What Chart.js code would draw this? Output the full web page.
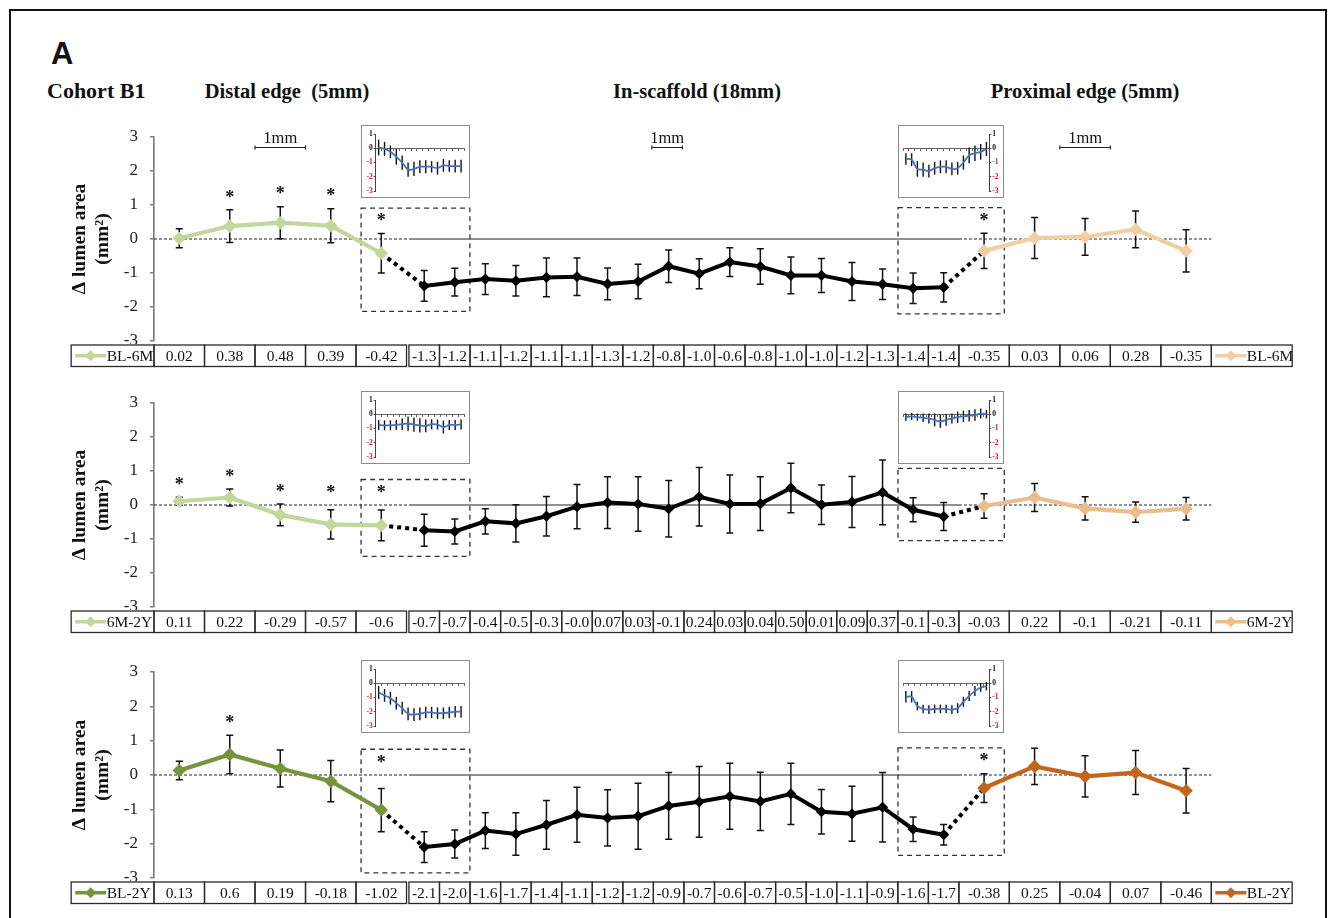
<!DOCTYPE html>
<html>
<head>
<meta charset="utf-8">
<title>Cohort B1 - change in lumen area</title>
<script src="https://cdn.jsdelivr.net/npm/chart.js@4.4.1/dist/chart.umd.min.js"></script>
<style>
  body { margin: 0; width: 1337px; height: 918px; overflow: hidden; position: relative; background: #fff;
         font-family: "Liberation Serif", "Times New Roman", serif; }
  #frame { position: absolute; left: 9px; top: 9px; width: 1314px; height: 960px; border: 2.5px solid #111; }
  .hd { position: absolute; font-weight: bold; font-size: 20.5px; line-height: 1; white-space: pre; color: #111; }
  .panel { position: absolute; left: 0; }
  .inset { position: absolute; border: 1px solid #8c8c8c; background: #fff; }
  .inset canvas { display: block; }
</style>
</head>
<body>
<div id="frame"></div>
<div class="hd" style="left:51px;top:38px;font-family:'Liberation Sans',Arial,sans-serif;font-size:31px;">A</div>
<div class="hd" style="left:47px;top:80px;font-size:22px;">Cohort B1</div>
<div class="hd" style="left:137px;top:81px;width:300px;text-align:center;">Distal edge  (5mm)</div>
<div class="hd" style="left:547px;top:81px;width:300px;text-align:center;">In-scaffold (18mm)</div>
<div class="hd" style="left:935px;top:81px;width:300px;text-align:center;">Proximal edge (5mm)</div>

<canvas id="p1" class="panel" width="1337" height="262" style="top:110px"></canvas>
<canvas id="p2" class="panel" width="1337" height="262" style="top:376px"></canvas>
<canvas id="p3" class="panel" width="1337" height="264" style="top:645px"></canvas>

<script>
const SERIF = '"Liberation Serif", "Times New Roman", serif';

// ---------- BL-6M ----------
const bl6mDistal     = [0.02, 0.38, 0.48, 0.39, -0.42];
const bl6mDistalSd   = [0.28, 0.48, 0.47, 0.50, 0.58];
const bl6mScaffold   = [-1.38, -1.27, -1.18, -1.23, -1.13, -1.11, -1.32, -1.25, -0.80, -1.02, -0.68, -0.81, -1.07, -1.07, -1.25, -1.33, -1.45, -1.42];
const bl6mScaffoldSd = [0.45, 0.41, 0.45, 0.45, 0.57, 0.55, 0.47, 0.51, 0.48, 0.44, 0.42, 0.52, 0.54, 0.50, 0.56, 0.45, 0.45, 0.43];
const bl6mProx       = [-0.35, 0.03, 0.06, 0.28, -0.35];
const bl6mProxSd     = [0.52, 0.60, 0.54, 0.54, 0.62];
const bl6mStars      = [1, 2, 3, 4, 23];
const bl6mLabels = ['0.02','0.38','0.48','0.39','-0.42',
  '-1.3','-1.2','-1.1','-1.2','-1.1','-1.1','-1.3','-1.2','-0.8','-1.0','-0.6','-0.8','-1.0','-1.0','-1.2','-1.3','-1.4','-1.4',
  '-0.35','0.03','0.06','0.28','-0.35'];
const bl6mInsetD   = [0.05, -0.05, -0.25, -0.6, -1.0, -1.5, -1.45, -1.3, -1.3, -1.3, -1.4, -1.2, -1.25, -1.25, -1.25];
const bl6mInsetDSd = [0.55, 0.5, 0.45, 0.55, 0.5, 0.5, 0.5, 0.45, 0.45, 0.4, 0.45, 0.45, 0.4, 0.45, 0.45];
const bl6mInsetP   = [-0.75, -0.8, -1.45, -1.5, -1.6, -1.4, -1.3, -1.3, -1.45, -1.4, -1.0, -0.5, -0.35, -0.25, -0.05];
const bl6mInsetPSd = [0.4, 0.45, 0.55, 0.5, 0.45, 0.45, 0.45, 0.45, 0.45, 0.45, 0.5, 0.55, 0.55, 0.55, 0.5];

// ---------- 6M-2Y ----------
const m6y2Distal     = [0.11, 0.22, -0.29, -0.57, -0.60];
const m6y2DistalSd   = [0.12, 0.25, 0.32, 0.43, 0.45];
const m6y2Scaffold   = [-0.74, -0.78, -0.48, -0.54, -0.33, -0.05, 0.07, 0.03, -0.11, 0.24, 0.03, 0.04, 0.50, 0.01, 0.09, 0.37, -0.14, -0.34];
const m6y2ScaffoldSd = [0.47, 0.37, 0.37, 0.55, 0.58, 0.65, 0.76, 0.80, 0.83, 0.86, 0.85, 0.79, 0.73, 0.58, 0.75, 0.95, 0.35, 0.41];
const m6y2Prox       = [-0.03, 0.22, -0.10, -0.21, -0.11];
const m6y2ProxSd     = [0.36, 0.41, 0.34, 0.30, 0.33];
const m6y2Stars      = [0, 1, 2, 3, 4];
const m6y2Labels = ['0.11','0.22','-0.29','-0.57','-0.6',
  '-0.7','-0.7','-0.4','-0.5','-0.3','-0.0','0.07','0.03','-0.1','0.24','0.03','0.04','0.50','0.01','0.09','0.37','-0.1','-0.3',
  '-0.03','0.22','-0.1','-0.21','-0.11'];
const m6y2InsetD   = [-0.75, -0.78, -0.78, -0.75, -0.7, -0.65, -0.72, -0.78, -0.82, -0.7, -0.72, -0.9, -0.75, -0.75, -0.72];
const m6y2InsetDSd = [0.35, 0.35, 0.35, 0.35, 0.4, 0.5, 0.5, 0.5, 0.45, 0.35, 0.35, 0.45, 0.35, 0.35, 0.35];
const m6y2InsetP   = [-0.2, -0.15, -0.2, -0.25, -0.3, -0.4, -0.5, -0.4, -0.3, -0.2, -0.15, -0.1, -0.05, 0.05, 0.0];
const m6y2InsetPSd = [0.25, 0.25, 0.25, 0.3, 0.35, 0.45, 0.45, 0.4, 0.35, 0.4, 0.4, 0.4, 0.4, 0.35, 0.3];

// ---------- BL-2Y ----------
const bl2yDistal     = [0.13, 0.60, 0.19, -0.18, -1.02];
const bl2yDistalSd   = [0.27, 0.56, 0.54, 0.60, 0.63];
const bl2yScaffold   = [-2.10, -2.01, -1.62, -1.72, -1.45, -1.16, -1.25, -1.20, -0.90, -0.78, -0.62, -0.77, -0.55, -1.07, -1.13, -0.94, -1.58, -1.74];
const bl2yScaffoldSd = [0.45, 0.41, 0.52, 0.62, 0.71, 0.80, 0.82, 0.96, 0.97, 1.03, 0.96, 0.85, 0.89, 0.65, 0.80, 1.01, 0.36, 0.30];
const bl2yProx       = [-0.38, 0.25, -0.04, 0.07, -0.46];
const bl2yProxSd     = [0.42, 0.53, 0.60, 0.64, 0.65];
const bl2yStars      = [1, 4, 23];
const bl2yLabels = ['0.13','0.6','0.19','-0.18','-1.02',
  '-2.1','-2.0','-1.6','-1.7','-1.4','-1.1','-1.2','-1.2','-0.9','-0.7','-0.6','-0.7','-0.5','-1.0','-1.1','-0.9','-1.6','-1.7',
  '-0.38','0.25','-0.04','0.07','-0.46'];
const bl2yInsetD   = [-0.65, -0.85, -1.05, -1.4, -1.75, -2.15, -2.2, -2.15, -2.05, -2.05, -2.1, -2.1, -2.05, -2.0, -2.0];
const bl2yInsetDSd = [0.45, 0.45, 0.45, 0.45, 0.45, 0.45, 0.45, 0.45, 0.4, 0.4, 0.4, 0.4, 0.4, 0.4, 0.4];
const bl2yInsetP   = [-0.95, -0.95, -1.6, -1.8, -1.85, -1.8, -1.8, -1.8, -1.85, -1.75, -1.3, -0.9, -0.55, -0.3, -0.2];
const bl2yInsetPSd = [0.4, 0.4, 0.3, 0.3, 0.3, 0.3, 0.3, 0.3, 0.3, 0.35, 0.35, 0.35, 0.35, 0.3, 0.3];

// x layout: distal/proximal 1 unit per mm, in-scaffold compressed
const STEP_IN = 0.605, GAP_IN = 0.85, GAP_OUT = 0.8;
const xD = i => i;
const xS = j => 4 + GAP_IN + j * STEP_IN;
const xP = k => xS(17) + GAP_OUT + k;

function diamond(ctx, x, y, r, color) {
  ctx.fillStyle = color;
  ctx.beginPath();
  ctx.moveTo(x, y - r); ctx.lineTo(x + r, y); ctx.lineTo(x, y + r); ctx.lineTo(x - r, y);
  ctx.closePath(); ctx.fill();
}

function makeDecor(p, pts) {
  return {
    id: 'decor',
    beforeDatasetsDraw(chart) {
      const {ctx, chartArea: a, scales: {x, y}} = chart;
      const px = v => x.getPixelForValue(v), py = v => y.getPixelForValue(v);
      ctx.save();
      // zero line: dashed at the edges, solid along the scaffold
      const y0 = py(0), sL = px(xS(0) - STEP_IN / 2), sR = px(xS(17) + STEP_IN / 2), pR = px(xP(4) + 0.5);
      ctx.strokeStyle = '#222'; ctx.lineWidth = 1;
      ctx.setLineDash([3, 2]);
      ctx.beginPath(); ctx.moveTo(a.left, y0); ctx.lineTo(sL, y0); ctx.moveTo(sR, y0); ctx.lineTo(pR, y0); ctx.stroke();
      ctx.setLineDash([]);
      ctx.beginPath(); ctx.moveTo(sL, y0); ctx.lineTo(sR, y0); ctx.stroke();

      // dashed boxes around the scaffold edges
      const box = (ids, x0, x1) => {
        const top = Math.max(0, ...ids.map(i => pts[i].y + pts[i].sd)) + 0.75;
        const bot = Math.min(...ids.map(i => pts[i].y - pts[i].sd)) - 0.3;
        ctx.strokeRect(px(x0), py(top), px(x1) - px(x0), py(bot) - py(top));
      };
      ctx.strokeStyle = '#333'; ctx.lineWidth = 1.3; ctx.setLineDash([5, 4]);
      box([4, 5, 6], xD(4) - 0.4, xS(1) + 0.3);
      box([21, 22, 23], xS(16) - 0.3, xP(0) + 0.4);
      ctx.setLineDash([]);

      // error bars (SD)
      ctx.strokeStyle = '#111'; ctx.lineWidth = 1.5;
      pts.forEach(d => {
        const cx = px(d.x), t = py(d.y + d.sd), b = py(d.y - d.sd);
        ctx.beginPath();
        ctx.moveTo(cx, t); ctx.lineTo(cx, b);
        ctx.moveTo(cx - 3.5, t); ctx.lineTo(cx + 3.5, t);
        ctx.moveTo(cx - 3.5, b); ctx.lineTo(cx + 3.5, b);
        ctx.stroke();
      });
      ctx.restore();
    },
    afterDatasetsDraw(chart) {
      const {ctx, scales: {x, y}} = chart;
      ctx.save();
      ctx.fillStyle = '#111'; ctx.font = 'bold 18px ' + SERIF;
      ctx.textAlign = 'center'; ctx.textBaseline = 'middle';
      p.stars.forEach(i => {
        const d = pts[i];
        ctx.fillText('*', x.getPixelForValue(d.x), y.getPixelForValue(Math.max(0, d.y + d.sd) + 0.35));
      });
      ctx.restore();
    },
    afterDraw(chart) {
      const {ctx, chartArea: a, scales: {x}} = chart;
      const px = v => x.getPixelForValue(v);
      ctx.save();
      // value table under the plot
      const top = a.bottom + 4, h = 21.5, cy = top + h / 2;
      const lL = px(-0.5 - 1.64), lR = px(-0.5), rL = px(xP(4) + 0.5), rR = px(xP(4) + 0.5 + 1.6);
      ctx.fillStyle = '#fff'; ctx.fillRect(lL - 1, top - 1, rR - lL + 2, h + 2);
      ctx.strokeStyle = '#2a2a2a'; ctx.lineWidth = 1.3;
      ctx.font = '15.5px ' + SERIF; ctx.textBaseline = 'middle';
      pts.forEach((d, i) => {
        const half = (i >= 5 && i < 23) ? STEP_IN / 2 : 0.5;
        const l = px(d.x - half), r = px(d.x + half);
        ctx.strokeRect(l, top, r - l, h);
        ctx.fillStyle = '#111'; ctx.textAlign = 'center';
        ctx.fillText(p.labels[i], (l + r) / 2, cy + 1);
      });
      const legendCell = (l, r, color) => {
        ctx.strokeStyle = '#2a2a2a'; ctx.lineWidth = 1.3;
        ctx.strokeRect(l, top, r - l, h);
        ctx.strokeStyle = color; ctx.lineWidth = 3.5;
        ctx.beginPath(); ctx.moveTo(l + 4, cy); ctx.lineTo(l + 35, cy); ctx.stroke();
        diamond(ctx, l + 19.5, cy, 5.5, color);
        ctx.fillStyle = '#111'; ctx.textAlign = 'left';
        ctx.fillText(p.name, l + 35.5, cy + 1);
      };
      legendCell(lL, lR, p.colD);
      legendCell(rL, rR, p.colP);

      // 1 mm scale bars (top panel only)
      if (p.scaleBars) {
        const yb = a.top + 10.5;
        ctx.strokeStyle = '#222'; ctx.lineWidth = 1.2;
        ctx.fillStyle = '#111'; ctx.font = '16.5px ' + SERIF;
        ctx.textAlign = 'center'; ctx.textBaseline = 'alphabetic';
        [[xD(1.5), xD(2.5)], [xS(7.45), xS(8.45)], [xP(1.5), xP(2.5)]].forEach(([u0, u1]) => {
          const l = px(u0), r = px(u1);
          ctx.beginPath();
          ctx.moveTo(l, yb); ctx.lineTo(r, yb);
          ctx.moveTo(l, yb - 2); ctx.lineTo(l, yb + 2);
          ctx.moveTo(r, yb - 2); ctx.lineTo(r, yb + 2);
          ctx.stroke();
          ctx.fillText('1mm', (l + r) / 2, a.top + 6);
        });
      }
      ctx.restore();
    }
  };
}

function makePanel(canvasId, p) {
  const pairs = (fx, ys) => ys.map((v, i) => ({x: fx(i), y: v}));
  const pts = [
    ...p.distal.map((v, i) => ({x: xD(i), y: v, sd: p.distalSd[i]})),
    ...p.scaffold.map((v, j) => ({x: xS(j), y: v, sd: p.scaffoldSd[j]})),
    ...p.prox.map((v, k) => ({x: xP(k), y: v, sd: p.proxSd[k]}))
  ];
  const n = p.scaffold.length;
  const lineSet = (data, color, width, radius) => ({
    data, borderColor: color, backgroundColor: color, borderWidth: width,
    pointStyle: 'rectRot', pointRadius: radius, pointBorderWidth: 0, pointBackgroundColor: color
  });
  const dotted = data => ({data, borderColor: '#000', borderWidth: 4, borderDash: [4, 4], pointRadius: 0});
  return new Chart(document.getElementById(canvasId), {
    type: 'line',
    data: {
      datasets: [
        lineSet(pairs(xD, p.distal), p.colD, 4.2, 6.8),
        lineSet(pairs(xS, p.scaffold), '#000', 4, 5.6),
        lineSet(pairs(xP, p.prox), p.colP, 4.2, 6.8),
        dotted([{x: xD(4), y: p.distal[4]}, {x: xS(0), y: p.scaffold[0]}]),
        dotted([{x: xS(n - 1), y: p.scaffold[n - 1]}, {x: xP(0), y: p.prox[0]}])
      ]
    },
    options: {
      responsive: false,
      animation: false,
      layout: {padding: {left: 0, right: 37, top: 27, bottom: p.padBottom}},
      plugins: {legend: {display: false}, tooltip: {enabled: false}},
      scales: {
        x: {type: 'linear', display: false, min: -0.5, max: 22.19},
        y: {
          min: -3, max: 3,
          afterFit: s => { s.width = 154; },
          ticks: {stepSize: 1, padding: 12, color: '#222', font: {family: SERIF, size: 17}},
          grid: {drawOnChartArea: false, tickLength: 4, color: '#808080', lineWidth: 1.5},
          border: {color: '#7a7a7a', width: 1.6},
          title: {
            display: true, text: ['Δ lumen area', '(mm²)'], color: '#111',
            font: {family: SERIF, size: 19.5, weight: 'bold', lineHeight: 1.18},
            padding: {top: 68.5, bottom: 0}
          }
        }
      }
    },
    plugins: [makeDecor(p, pts)]
  });
}

const insetBars = {
  id: 'insetBars',
  beforeDatasetsDraw(chart) {
    const {ctx, scales: {x, y}} = chart;
    const ds = chart.data.datasets[0];
    ctx.save();
    ctx.strokeStyle = '#111'; ctx.lineWidth = 1.4;
    ds.data.forEach((d, i) => {
      const cx = x.getPixelForValue(d.x);
      ctx.beginPath();
      ctx.moveTo(cx, y.getPixelForValue(d.y + ds.sd[i]));
      ctx.lineTo(cx, y.getPixelForValue(d.y - ds.sd[i]));
      ctx.stroke();
    });
    ctx.restore();
  }
};

function makeInset(main, canvasTop, vals, sds, side, x0, x1) {
  const xs = main.scales.x, a = main.chartArea;
  const left = Math.round(xs.getPixelForValue(x0)), right = Math.round(xs.getPixelForValue(x1));
  const div = document.createElement('div');
  div.className = 'inset';
  div.style.left = left + 'px';
  div.style.top = Math.round(canvasTop + a.top - 12) + 'px';
  const cv = document.createElement('canvas');
  cv.width = right - left - 2; cv.height = 71;
  div.appendChild(cv);
  document.body.appendChild(div);
  new Chart(cv, {
    type: 'line',
    data: {datasets: [{
      data: vals.map((v, i) => ({x: i, y: v})), sd: sds,
      borderColor: '#4472c4', borderWidth: 1.8, pointRadius: 0, tension: 0.35
    }]},
    options: {
      responsive: false, animation: false,
      layout: {padding: side === 'left' ? {left: 0, right: 5, top: 8, bottom: 6} : {left: 4, right: 0, top: 8, bottom: 6}},
      plugins: {legend: {display: false}, tooltip: {enabled: false}},
      scales: {
        x: {type: 'linear', min: -0.5, max: 14.5, position: {y: 0},
            ticks: {display: false, stepSize: 1},
            grid: {drawOnChartArea: false, tickLength: 2, color: '#666'},
            border: {color: '#666'}},
        y: {position: side, min: -3, max: 1,
            afterFit: s => { s.width = 13.7; },
            ticks: {stepSize: 1, padding: 1, font: {family: SERIF, size: 7.5, weight: 'bold'},
                    color: c => c.tick.value < 0 ? '#e8141b' : '#111'},
            grid: {drawOnChartArea: false, tickLength: 2, color: '#444'},
            border: {color: '#444'}}
      }
    },
    plugins: [insetBars]
  });
}

const panels = [
  {canvas: 'p1', top: 110, name: 'BL-6M', colD: '#c3d69b', colP: '#f2cfa3', padBottom: 31, scaleBars: true,
   distal: bl6mDistal, distalSd: bl6mDistalSd, scaffold: bl6mScaffold, scaffoldSd: bl6mScaffoldSd,
   prox: bl6mProx, proxSd: bl6mProxSd, stars: bl6mStars, labels: bl6mLabels,
   insetD: [bl6mInsetD, bl6mInsetDSd], insetP: [bl6mInsetP, bl6mInsetPSd]},
  {canvas: 'p2', top: 376, name: '6M-2Y', colD: '#c3d69b', colP: '#e9bd8c', padBottom: 31, scaleBars: false,
   distal: m6y2Distal, distalSd: m6y2DistalSd, scaffold: m6y2Scaffold, scaffoldSd: m6y2ScaffoldSd,
   prox: m6y2Prox, proxSd: m6y2ProxSd, stars: m6y2Stars, labels: m6y2Labels,
   insetD: [m6y2InsetD, m6y2InsetDSd], insetP: [m6y2InsetP, m6y2InsetPSd]},
  {canvas: 'p3', top: 645, name: 'BL-2Y', colD: '#77933c', colP: '#c4651f', padBottom: 31, scaleBars: false,
   distal: bl2yDistal, distalSd: bl2yDistalSd, scaffold: bl2yScaffold, scaffoldSd: bl2yScaffoldSd,
   prox: bl2yProx, proxSd: bl2yProxSd, stars: bl2yStars, labels: bl2yLabels,
   insetD: [bl2yInsetD, bl2yInsetDSd], insetP: [bl2yInsetP, bl2yInsetPSd]}
];

panels.forEach(p => {
  const chart = makePanel(p.canvas, p);
  makeInset(chart, p.top, p.insetD[0], p.insetD[1], 'left', xD(4) - 0.4, xS(1) + 0.3);
  makeInset(chart, p.top, p.insetP[0], p.insetP[1], 'right', xS(16) - 0.3, xP(0) + 0.4);
});
</script>
</body>
</html>
